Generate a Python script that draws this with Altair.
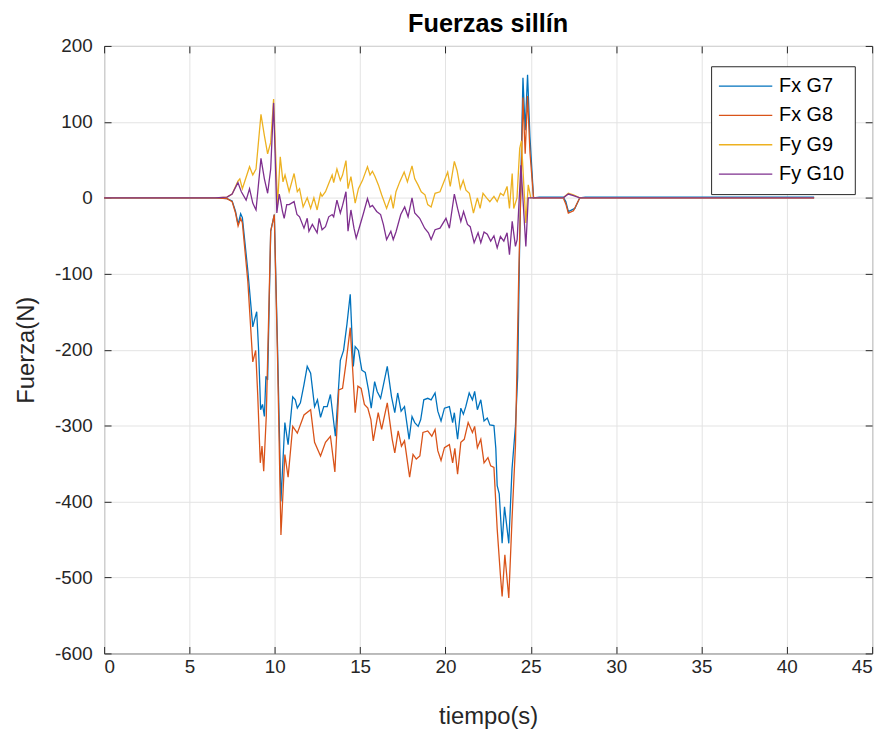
import altair as alt
import pandas as pd

names = ["Fx G7", "Fx G8", "Fy G9", "Fy G10"]
colors = ["#0072BD", "#D95319", "#EDB120", "#7E2F8E"]

t_g7 = [0, 6.5, 7.2, 7.5, 7.7, 7.85, 8.0, 8.1, 8.42, 8.71, 8.82, 8.94, 9.05, 9.17, 9.28, 9.39, 9.48, 9.58, 9.76, 9.97,
        10.16, 10.36, 10.59, 10.78, 11.05, 11.2, 11.32, 11.5, 11.71, 11.9, 12.1, 12.33, 12.5, 12.68, 12.87, 13.07, 13.26,
        13.55, 13.84, 14.03, 14.23, 14.42, 14.6, 14.71, 14.9, 15.1, 15.3, 15.49, 15.65, 15.85, 16.0, 16.2, 16.59, 16.84,
        17.03, 17.2, 17.4, 17.6, 17.87, 18.04, 18.2, 18.4, 18.55, 18.73, 18.96, 19.16, 19.39, 19.55, 19.74, 19.94, 20.23,
        20.42, 20.52, 20.71, 20.9, 21.05, 21.19, 21.39, 21.58, 21.71, 21.87, 22.07, 22.26, 22.45, 22.6, 22.84, 22.95,
        23.03, 23.15, 23.32, 23.46, 23.71, 23.9, 24.1, 24.23, 24.33, 24.45, 24.54, 24.67, 24.81, 24.95, 25.16, 25.5,
        26.9, 27.05, 27.2, 27.58, 27.87, 28.2, 41.6]
v_g7 = [0, 0, -1, -4, -18, -35, -21, -26, -96, -170, -160, -150, -200, -279, -272, -288, -235, -240, -44, -22,
        -196, -400, -296, -325, -262, -266, -277, -270, -246, -222, -231, -275, -266, -289, -275, -275, -259,
        -314, -214, -201, -166, -127, -222, -196, -201, -227, -230, -253, -277, -242, -255, -264, -222, -262,
        -283, -257, -281, -275, -318, -288, -296, -301, -292, -266, -264, -266, -257, -281, -294, -277, -275,
        -296, -283, -318, -277, -285, -275, -257, -266, -255, -279, -266, -294, -290, -299, -300, -330,
        -379, -390, -455, -407, -455, -357, -301, -236, -83, 60, 158, 89, 162, 80, 0, 1,
        1, -5, -18, -14, 0, 1, 1]

t_g8 = [0, 6.5, 7.2, 7.5, 7.7, 7.85, 8.0, 8.1, 8.42, 8.71, 8.88, 9.0, 9.15, 9.25, 9.35, 9.5, 9.76, 9.97, 10.16, 10.36,
        10.59, 10.78, 11.05, 11.32, 11.71, 12.1, 12.33, 12.68, 12.97, 13.26, 13.52, 13.75, 13.97, 14.17, 14.42, 14.71,
        14.87, 15.06, 15.25, 15.45, 15.63, 15.77, 16.06, 16.26, 16.59, 16.88, 17.03, 17.23, 17.42, 17.6, 17.9, 18.1,
        18.29, 18.5, 18.68, 18.96, 19.2, 19.39, 19.55, 19.74, 19.94, 20.23, 20.42, 20.55, 20.71, 20.9, 21.1, 21.33,
        21.58, 21.71, 21.87, 22.07, 22.26, 22.49, 22.65, 22.84, 23.03, 23.22, 23.32, 23.48, 23.71, 23.9, 24.1, 24.29,
        24.45, 24.54, 24.67, 24.81, 24.95, 25.16, 25.5, 26.9, 27.05, 27.2, 27.5, 27.87, 28.2, 41.6]
v_g8 = [0, 0, -1, -5, -20, -37, -27, -33, -110, -216, -201, -260, -349, -327, -360, -288, -44, -22, -210, -444,
        -338, -368, -301, -310, -286, -279, -322, -340, -322, -314, -361, -253, -251, -218, -171, -283,
        -248, -251, -272, -277, -292, -320, -283, -305, -270, -318, -336, -307, -327, -320, -368, -338,
        -344, -340, -309, -307, -314, -305, -333, -346, -329, -325, -349, -330, -364, -322, -318, -296,
        -309, -301, -329, -318, -349, -342, -353, -355, -436, -497, -525, -470, -527, -423, -327, -105,
        40, 132, 58, 134, 60, 0, 0, 0, -8, -20, -17, 0, 0, 0]

t_g9 = [0, 6.5, 7.2, 7.5, 7.84, 7.95, 8.1, 8.52, 8.71, 8.9, 9.19, 9.39, 9.58, 9.76, 9.93, 10.16, 10.32, 10.48, 10.6,
        10.84, 11.13, 11.32, 11.45, 11.66, 11.9, 12.1, 12.29, 12.48, 12.68, 12.77, 12.97, 13.16, 13.36, 13.45, 13.64,
        13.84, 13.97, 14.17, 14.29, 14.46, 14.62, 14.71, 14.9, 15.14, 15.43, 15.58, 15.72, 15.87, 16.07, 16.26, 16.55,
        16.8, 16.94, 17.1, 17.32, 17.58, 17.77, 18.04, 18.2, 18.39, 18.58, 18.8, 18.96, 19.16, 19.39, 19.68, 20.13,
        20.28, 20.52, 20.68, 20.87, 21.04, 21.2, 21.4, 21.64, 21.87, 22.03, 22.2, 22.41, 22.6, 22.84, 23.03, 23.22,
        23.4, 23.61, 23.75, 23.91, 24.0, 24.19, 24.35, 24.45, 24.71, 24.85, 25.0, 26.9, 27.2, 27.5, 27.87, 41.6]
v_g9 = [0, 0, 1, 5, 22, 25, 12, 41, 30, 38, 110, 82, 58, 73, 130, -9, 54, 21, 30,
        8, 32, 8, 12, -12, 0, -14, 0, -16, 6, 2, 8, 19, 30, 20, 38,
        23, 30, 49, 12, 28, 6, -7, 12, 23, 41, 30, 35, 28, 17, 4, -14,
        2, -14, 8, 21, 34, 21, 42, 25, 17, 8, 4, -9, -12, 6, 8, 34,
        15, 48, 36, 12, 23, 10, 6, -20, 0, -14, 6, 0, -5, 2, -5, 6,
        3, 15, -14, 32, -14, 0, 65, 75, -33, 17, 0, 0, 6, 4, 0, 0]

t_g10 = [0, 6.5, 7.2, 7.5, 7.84, 8.04, 8.32, 8.52, 8.71, 8.9, 9.19, 9.39, 9.58, 9.76, 9.93, 10.12, 10.26, 10.35, 10.45,
         10.55, 10.7, 10.84, 11.13, 11.3, 11.45, 11.71, 11.9, 12.0, 12.2, 12.48, 12.6, 12.77, 12.97, 13.16, 13.36,
         13.45, 13.64, 13.84, 13.97, 14.17, 14.29, 14.46, 14.64, 14.77, 14.94, 15.2, 15.43, 15.58, 15.72, 15.97, 16.2,
         16.36, 16.55, 16.8, 16.94, 17.1, 17.38, 17.61, 17.81, 18.04, 18.2, 18.49, 18.78, 19.0, 19.16, 19.39, 19.68,
         20.03, 20.23, 20.52, 20.71, 20.9, 21.06, 21.29, 21.45, 21.68, 21.91, 22.07, 22.26, 22.45, 22.65, 22.84, 23.03,
         23.22, 23.42, 23.61, 23.75, 23.91, 24.1, 24.2, 24.42, 24.71, 24.85, 25.0, 26.9, 27.2, 27.5, 27.87, 41.6]
v_g10 = [0, 0, 1, 5, 20, 8, -3, 12, -7, -16, 52, 25, 6, 38, 125, -20, 5, -5, -18,
         -27, -9, -9, -5, -22, -25, -40, -27, -44, -35, -46, -27, -42, -38, -25, -22,
         -25, -3, -20, -10, 8, -44, -16, -40, -53, -40, -20, -1, -12, -10, -18, -22,
         -35, -55, -44, -55, -45, -22, -12, -25, 0, -20, -27, -40, -46, -55, -42, -40,
         -27, -40, 5, -14, -31, -18, -35, -38, -59, -46, -59, -45, -48, -57, -50, -66,
         -51, -57, -46, -75, -31, -64, -55, 43, -64, 0, 0, 0, 5, 3, 0, 0]

x_ticks = [0, 5, 10, 15, 20, 25, 30, 35, 40, 45]
y_ticks = [-600, -500, -400, -300, -200, -100, 0, 100, 200]

series = [(names[0], t_g7, v_g7), (names[1], t_g8, v_g8), (names[2], t_g9, v_g9), (names[3], t_g10, v_g10)]
rows = []
for k, (nm, ts, vs) in enumerate(series):
    assert len(ts) == len(vs), nm
    for t, v in zip(ts, vs):
        rows.append({"serie": nm, "k": k, "t": t, "v": v})
df = pd.DataFrame(rows)

FONT = "Liberation Sans"
TS = 7
INK = "#262626"
GRID = "#e3e3e3"

xs = alt.Scale(domain=[0, 45], nice=False, zero=False)
ys = alt.Scale(domain=[-600, 200], nice=False, zero=False)

lines = alt.Chart(df).mark_line(strokeWidth=1.3).encode(
    x=alt.X("t:Q", scale=xs, axis=alt.Axis(
        orient="bottom", values=x_ticks, offset=-TS, tickSize=TS, labelPadding=4, domain=False,
        grid=True, gridColor=GRID, gridWidth=1, title="tiempo(s)", titleY=71, titleBaseline="middle",
        labelExpr="'' + datum.value")),
    y=alt.Y("v:Q", scale=ys, axis=alt.Axis(
        orient="left", values=y_ticks, offset=-TS, tickSize=TS, labelPadding=12, domain=False,
        grid=True, gridColor=GRID, gridWidth=1, title="Fuerza(N)", titleX=-85, titleBaseline="middle",
        labelExpr="'' + datum.value")),
    color=alt.Color("serie:N", scale=alt.Scale(domain=names, range=colors), legend=alt.Legend(
        title=None, orient="none", legendX=612.5, legendY=20.5, symbolType="M-5,0H5", symbolSize=116,
        symbolStrokeWidth=1.3, symbolOffset=14.8, labelOffset=23.8, labelFontSize=20, labelFont=FONT,
        labelColor="black", padding=10, rowPadding=9.6, strokeColor=INK, fillColor="white", labelLimit=0)),
    detail="k:N",
)

frame = alt.Chart(df).mark_line(opacity=0).encode(
    x=alt.X("t:Q", scale=xs, axis=alt.Axis(
        orient="top", values=x_ticks, offset=-TS, tickSize=TS, labels=False, domain=False, grid=False, title="")),
    y=alt.Y("v:Q", scale=ys, axis=alt.Axis(
        orient="right", values=y_ticks, offset=-TS, tickSize=TS, labels=False, domain=False, grid=False, title="")),
    detail="k:N",
)

chart = alt.layer(lines, frame).resolve_axis(x="independent", y="independent").properties(
    width=775, height=613,
    padding={"left": 97, "top": 35, "right": 16, "bottom": 77},
    autosize=alt.AutoSizeParams(type="none"),
    title=alt.TitleParams("Fuerzas sillín", font=FONT, fontSize=25.5, fontWeight="bold", color="black",
                          anchor="middle", offset=0),
).configure_view(stroke=INK, strokeWidth=1).configure_axis(
    labelFont=FONT, labelFontSize=19, labelColor=INK, titleFont=FONT, titleFontSize=24,
    titleFontWeight="normal", titleColor=INK, tickColor=INK, tickWidth=1,
)

chart.save("out.html", embed_options={"renderer": "svg", "actions": False})
